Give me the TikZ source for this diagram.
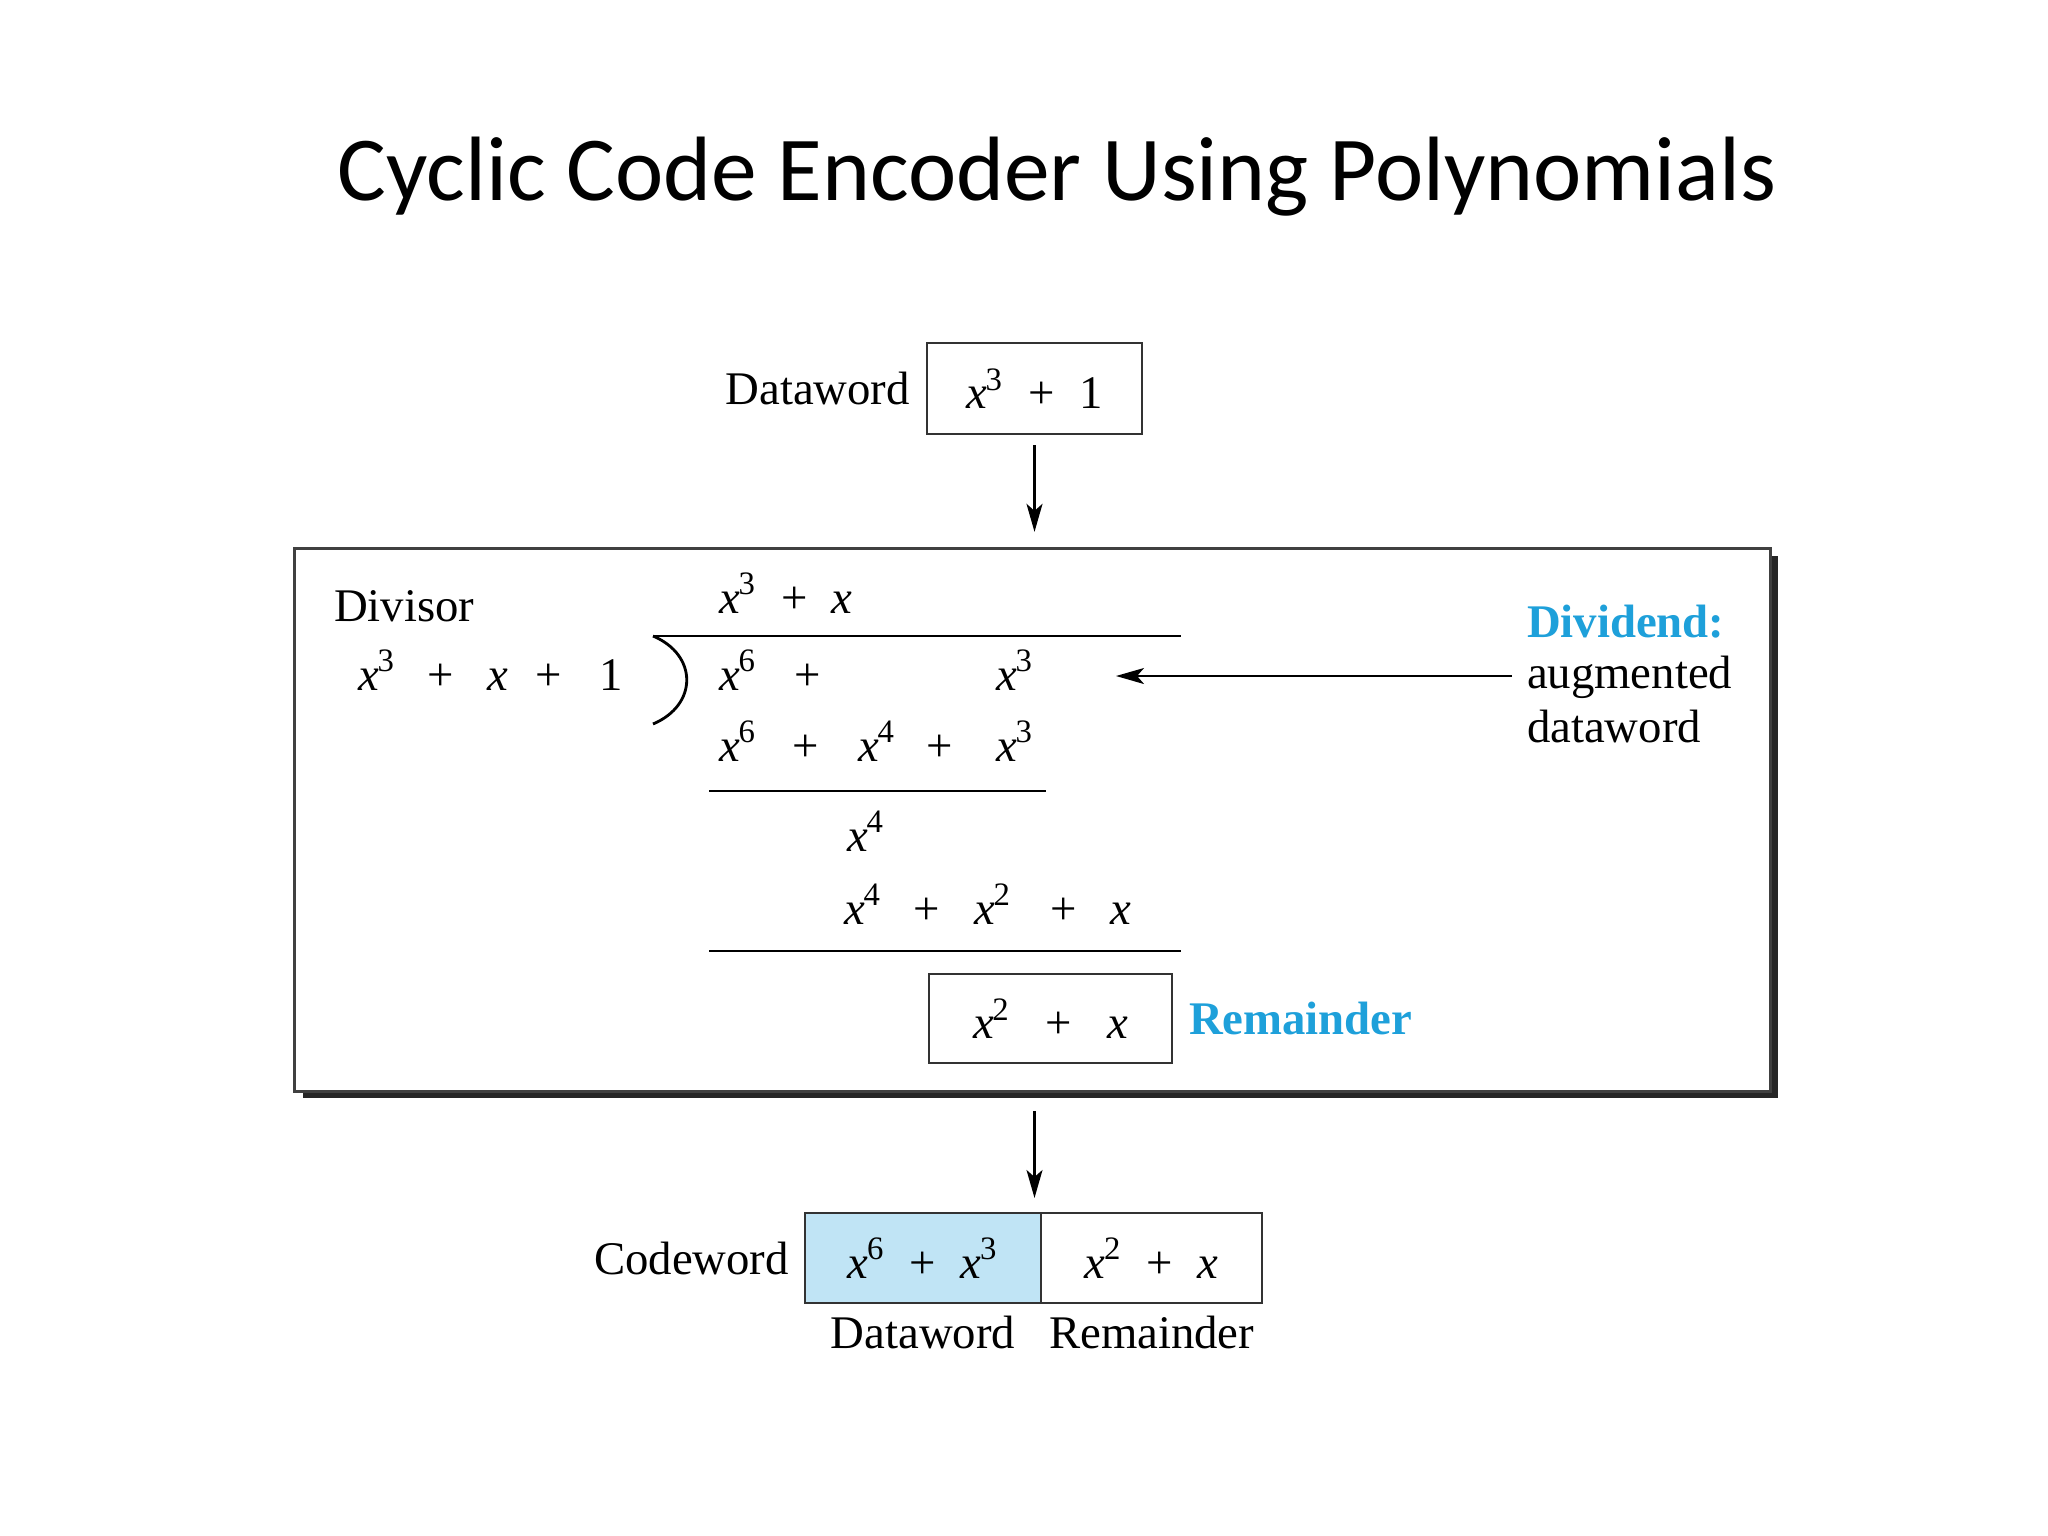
\documentclass[tikz,border=0pt]{standalone}
\usepackage{fontspec}
\setmainfont{Liberation Serif}
\newfontfamily\titlefont{Carlito}
\usetikzlibrary{positioning,arrows.meta,shadows}
\definecolor{divblue}{RGB}{30,160,218}
\definecolor{datafill}{RGB}{192,228,245}
\newcommand\xp[1]{\textit{x}\kern-0.4pt\textsuperscript{#1}}
\newcommand\tplus[1][7pt]{\hspace{#1}+\hspace{#1}}
\tikzset{
  >={Stealth[length=2.8mm,width=1.6mm,inset=0.7mm]},
  every node/.style={font=\fontsize{13.3}{16}\selectfont, inner sep=0pt, outer sep=0pt},
  term/.style={anchor=base},
  box/.style={draw=black!80, line width=0.7pt},
  note/.style={text=divblue, font=\fontsize{13.3}{16}\selectfont\bfseries},
  flow/.style={->, line width=0.6pt},
  rule/.style={line width=0.8pt},
}

\begin{document}
\begin{tikzpicture}[x=0.01cm, y=-0.01cm]
\useasboundingbox (0,0) rectangle (2048,1536);

% Title
\node[anchor=base, font=\titlefont\fontsize{26}{30}\selectfont] (title) at (1057,200) {Cyclic Code Encoder Using Polynomials};

% Dataword
\node[box, minimum width=2.15cm, minimum height=0.91cm] (dwbox) at (1034.5,388.5) {\xp{3}\tplus 1};
\node[left=0.17cm of dwbox] (dwlabel) {Dataword};

% Division
\node[draw=black!75, line width=0.8pt, fill=white, minimum width=14.75cm, minimum height=5.42cm,
  drop shadow={shadow xshift=0.08cm, shadow yshift=-0.07cm, opacity=1, fill=black!85}] (divbox) at (1032.5,820) {};
\draw[flow, shorten <=0.11cm, shorten >=0.17cm] (dwbox.south) -- (dwbox.south |- divbox.north);

\node[anchor=base west] (divisor) at (334,621) {Divisor};
\foreach \cx/\tm [count=\i] in {377/\xp{3}, 441/+, 498/\textit{x}, 549/+, 611/1}
  \node[term] (dvs\i) at (\cx,690) {\tm};

% quotient
\foreach \cx/\tm [count=\i] in {738/\xp{3}, 795/+, 842/\textit{x}}
  \node[term] (quo\i) at (\cx,613) {\tm};
% dividend
\foreach \cx/\tm [count=\i] in {738/\xp{6}, 808/+, 1015/\xp{3}}
  \node[term] (dvd\i) at (\cx,690) {\tm};
\foreach \cx/\tm [count=\i] in {738/\xp{6}, 806/+, 877/\xp{4}, 940/+, 1015/\xp{3}}
  \node[term] (sub\i) at (\cx,761) {\tm};
\node[term] (diff1) at (866,851) {\xp{4}};
\foreach \cx/\tm [count=\i] in {863/\xp{4}, 927/+, 993/\xp{2}, 1064/+, 1121/\textit{x}}
  \node[term] (subb\i) at (\cx,924) {\tm};

\draw[rule] (653,636) -- (1181,636);
\draw[rule] (653,636) .. controls (698,655) and (698,705) .. (653,724);
\draw[rule] (709,791) -- (1046,791);
\draw[rule] (709,951) -- (1181,951);

% remainder
\node[box, minimum width=2.43cm, minimum height=0.89cm] (rembox) at (1050.5,1018.5) {\xp{2}\tplus[10pt]\textit{x}};
\node[note, right=0.17cm of rembox] (remnote) {Remainder};

% dividend note
\node[note, anchor=base west] (dvdhead) at (1527,637) {Dividend:};
\node[anchor=base west] (dvdaug) at (1527,688) {augmented};
\node[anchor=base west] (dvdword) at (1527,742) {dataword};
\coordinate (dvdtip) at (1116,676);
\draw[flow, shorten <=0.15cm] (dvdaug.west |- dvdtip) -- (dvdtip);

% Codeword
\node[box, fill=datafill, minimum width=2.36cm, minimum height=0.9cm] (cwdata) at (923,1258) {\xp{6}\tplus\xp{3}};
\node[box, minimum width=2.21cm, minimum height=0.9cm, right=0pt of cwdata] (cwrem) {\xp{2}\tplus\textit{x}};
\node[left=0.16cm of cwdata] (cwlabel) {Codeword};
\node[below=0.13cm of cwdata] (cwdatalabel) {Dataword};
\node[below=0.13cm of cwrem] (cwremlabel) {Remainder};
\draw[flow, shorten <=0.2cm, shorten >=0.15cm] (dwbox.south |- divbox.south) -- (dwbox.south |- cwdata.north);

\end{tikzpicture}
\end{document}
